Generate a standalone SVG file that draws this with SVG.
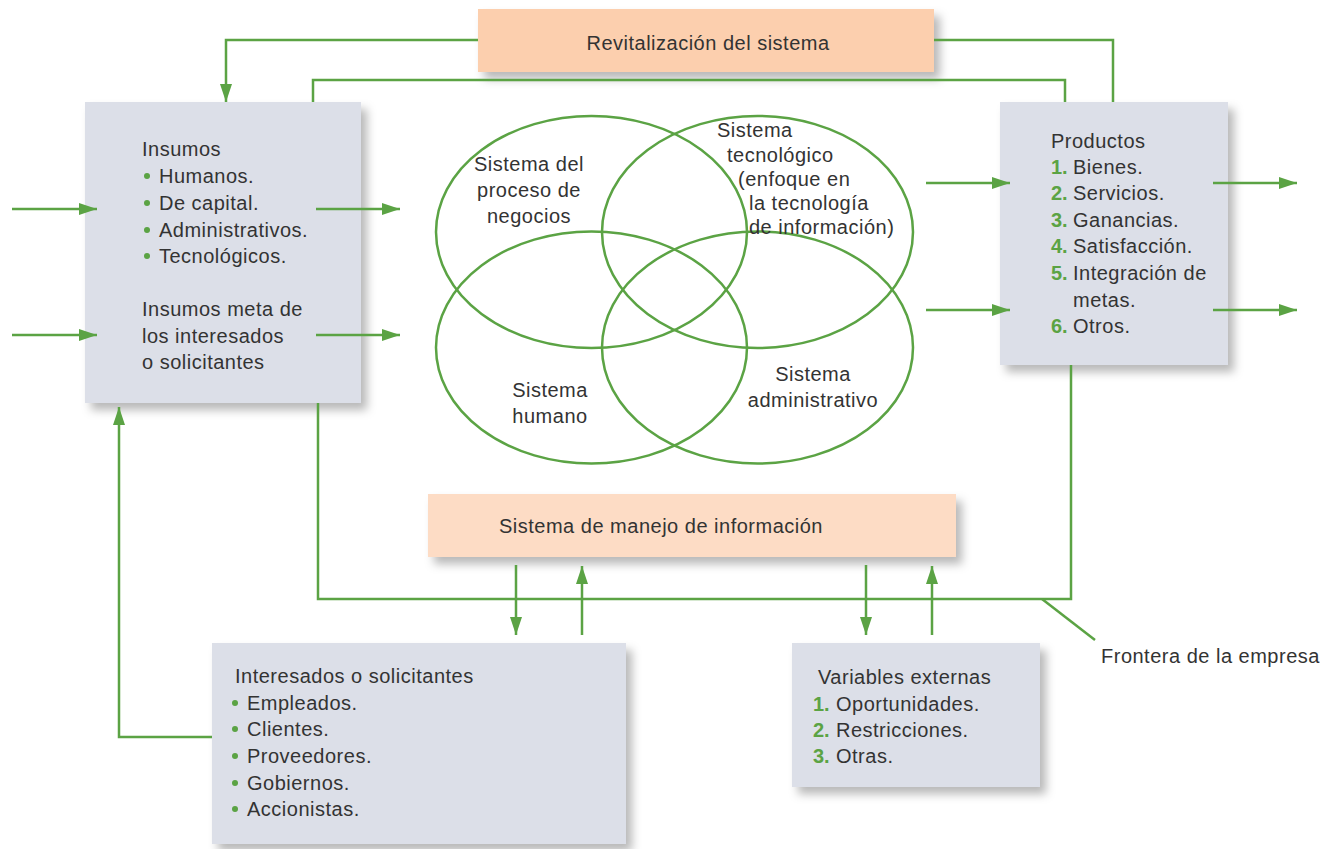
<svg xmlns="http://www.w3.org/2000/svg" width="1338" height="849" viewBox="0 0 1338 849">
<style>
.t{font-family:"Liberation Sans",Arial,sans-serif;font-size:20px;letter-spacing:0.5px;fill:#333}
.n{font-family:"Liberation Sans",Arial,sans-serif;font-size:20px;font-weight:bold;fill:#5ba344}
.c{text-anchor:middle}
.box{fill:#dcdfe8;filter:url(#sh)}
.peach{fill:#fccfae;filter:url(#sh)}
.peach2{fill:#fddcc5;filter:url(#sh)}
.ln{fill:none;stroke:#5ba344;stroke-width:2.5}
.ar{marker-end:url(#ah)}
.el{fill:none;stroke:#5ba344;stroke-width:2.5}
.b{fill:#5ba344}
</style>
<defs>
<filter id="sh" x="-10%" y="-10%" width="130%" height="140%">
<feDropShadow dx="6" dy="7" stdDeviation="5" flood-color="#000" flood-opacity="0.28"/>
</filter>
<marker id="ah" markerUnits="userSpaceOnUse" markerWidth="18" markerHeight="12" refX="18" refY="6" orient="auto">
<path d="M0,0 L18,6 L0,12 z" fill="#5ba344"/>
</marker>
</defs>
<rect width="1338" height="849" fill="#fff"/>

<g id="revitalizacion">
<rect class="peach" x="478" y="9" width="456" height="63"/>
<text class="t c" x="708" y="50">Revitalización del sistema</text>
</g>

<g id="insumos">
<rect class="box" x="85" y="102" width="276" height="301"/>
<text class="t" x="142" y="156">Insumos</text>
<circle class="b" cx="147" cy="176" r="3"/><text class="t" x="159" y="183">Humanos.</text>
<circle class="b" cx="147" cy="203" r="3"/><text class="t" x="159" y="210">De capital.</text>
<circle class="b" cx="147" cy="230" r="3"/><text class="t" x="159" y="237">Administrativos.</text>
<circle class="b" cx="147" cy="256" r="3"/><text class="t" x="159" y="263">Tecnológicos.</text>
<text class="t" x="142" y="316">Insumos meta de</text>
<text class="t" x="142" y="343">los interesados</text>
<text class="t" x="142" y="369">o solicitantes</text>
</g>

<g id="productos">
<rect class="box" x="1000" y="102" width="228" height="263"/>
<text class="t" x="1051" y="148">Productos</text>
<text class="n" x="1051" y="174">1.</text><text class="t" x="1073" y="174">Bienes.</text>
<text class="n" x="1051" y="200">2.</text><text class="t" x="1073" y="200">Servicios.</text>
<text class="n" x="1051" y="227">3.</text><text class="t" x="1073" y="227">Ganancias.</text>
<text class="n" x="1051" y="253">4.</text><text class="t" x="1073" y="253">Satisfacción.</text>
<text class="n" x="1051" y="280">5.</text><text class="t" x="1073" y="280">Integración de</text>
<text class="t" x="1073" y="307">metas.</text>
<text class="n" x="1051" y="333">6.</text><text class="t" x="1073" y="333">Otros.</text>
</g>

<g id="subsistemas">
<ellipse class="el" cx="591.5" cy="232" rx="155.5" ry="116"/>
<ellipse class="el" cx="757.5" cy="232" rx="155.5" ry="116"/>
<ellipse class="el" cx="591.5" cy="347.5" rx="155.5" ry="116"/>
<ellipse class="el" cx="757.5" cy="347.5" rx="155.5" ry="116"/>
<text class="t c" x="529" y="171">Sistema del</text>
<text class="t c" x="529" y="197">proceso de</text>
<text class="t c" x="529" y="223">negocios</text>
<text class="t" x="717" y="137">Sistema</text>
<text class="t" x="727" y="162">tecnológico</text>
<text class="t" x="738" y="186">(enfoque en</text>
<text class="t" x="749" y="210">la tecnología</text>
<text class="t" x="749" y="234">de información)</text>
<text class="t c" x="550" y="397">Sistema</text>
<text class="t c" x="550" y="423">humano</text>
<text class="t c" x="813" y="381">Sistema</text>
<text class="t c" x="813" y="407">administrativo</text>
</g>

<g id="manejo">
<rect class="peach2" x="428" y="494" width="528" height="63"/>
<text class="t" x="499" y="533">Sistema de manejo de información</text>
</g>

<g id="interesados">
<rect class="box" x="212" y="643" width="414" height="201"/>
<text class="t" x="235" y="683">Interesados o solicitantes</text>
<circle class="b" cx="235" cy="703" r="3"/><text class="t" x="247" y="710">Empleados.</text>
<circle class="b" cx="235" cy="729" r="3"/><text class="t" x="247" y="736">Clientes.</text>
<circle class="b" cx="235" cy="756" r="3"/><text class="t" x="247" y="763">Proveedores.</text>
<circle class="b" cx="235" cy="783" r="3"/><text class="t" x="247" y="790">Gobiernos.</text>
<circle class="b" cx="235" cy="809" r="3"/><text class="t" x="247" y="816">Accionistas.</text>
</g>

<g id="variables">
<rect class="box" x="792" y="643" width="248" height="144"/>
<text class="t" x="818" y="684">Variables externas</text>
<text class="n" x="813" y="711">1.</text><text class="t" x="836" y="711">Oportunidades.</text>
<text class="n" x="813" y="737">2.</text><text class="t" x="836" y="737">Restricciones.</text>
<text class="n" x="813" y="763">3.</text><text class="t" x="836" y="763">Otras.</text>
</g>

<g id="frontera">
<text class="t" x="1101" y="663">Frontera de la empresa</text>
</g>

<g id="connectors">
<polyline class="ln ar" points="478,40 226,40 226,102"/>
<polyline class="ln" points="934,40 1113,40 1113,102"/>
<polyline class="ln" points="313,102 313,80 1065,80 1065,102"/>
<line class="ln ar" x1="12" y1="209" x2="97" y2="209"/>
<line class="ln ar" x1="12" y1="335" x2="97" y2="335"/>
<line class="ln ar" x1="316" y1="209" x2="400" y2="209"/>
<line class="ln ar" x1="316" y1="335" x2="400" y2="335"/>
<line class="ln ar" x1="926" y1="183" x2="1010" y2="183"/>
<line class="ln ar" x1="926" y1="310" x2="1010" y2="310"/>
<line class="ln ar" x1="1213" y1="183" x2="1297" y2="183"/>
<line class="ln ar" x1="1213" y1="310" x2="1297" y2="310"/>
<polyline class="ln" points="318,403 318,599 1071,599 1071,365"/>
<polyline class="ln ar" points="212,737 119,737 119,407"/>
<line class="ln ar" x1="516" y1="565" x2="516" y2="635"/>
<line class="ln ar" x1="582" y1="635" x2="582" y2="566"/>
<line class="ln ar" x1="866" y1="565" x2="866" y2="635"/>
<line class="ln ar" x1="932" y1="635" x2="932" y2="566"/>
<line class="ln" x1="1042" y1="599" x2="1095" y2="640"/>
</g>
</svg>
